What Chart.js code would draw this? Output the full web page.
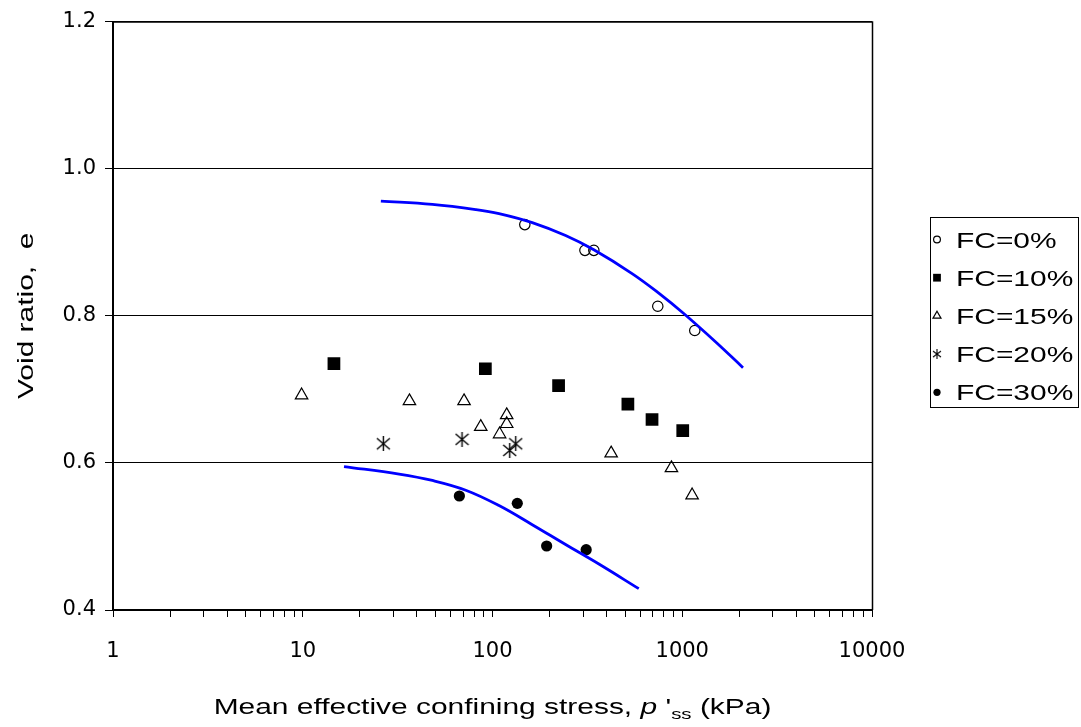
<!DOCTYPE html>
<html>
<head>
<meta charset="utf-8">
<script src="https://cdn.jsdelivr.net/npm/chart.js@4.4.0/dist/chart.umd.min.js"></script>
<style>
html, body { margin: 0; padding: 0; background: #fff; }
#wrap { width: 1081px; height: 727px; }
</style>
</head>
<body>
<div id="wrap"><canvas id="mainChart" width="1081" height="727"></canvas></div>
<script>
// p'ss (kPa) and void ratio e
const fc0X = [148, 307, 342, 743, 1164];
const fc0Y = [0.924, 0.889, 0.889, 0.813, 0.780];
const fc10X = [14.6, 91.7, 223, 517, 693, 1006];
const fc10Y = [0.735, 0.728, 0.705, 0.680, 0.659, 0.644];
const fc15X = [9.86, 36.5, 70.8, 86.7, 109, 118.8, 118.8, 422, 877, 1127];
const fc15Y = [0.692, 0.684, 0.684, 0.649, 0.639, 0.665, 0.653, 0.613, 0.593, 0.556];
const fc20X = [26.6, 69.1, 123.2, 132.5];
const fc20Y = [0.626, 0.632, 0.617, 0.626];
const fc30X = [66.9, 135.1, 192.9, 311.7];
const fc30Y = [0.555, 0.545, 0.487, 0.482];

// trend lines
const upperX = [25.8, 48.2, 81.6, 108.2, 162, 242.8, 342, 544, 752, 1018, 1496, 2090];
const upperY = [0.956, 0.9514, 0.9445, 0.939, 0.9267, 0.9091, 0.8897, 0.8574, 0.8308, 0.8031, 0.7647, 0.7295];
const lowerX = [16.5, 32.2, 48.2, 72.3, 108.2, 162, 242.8, 363.6, 590];
const lowerY = [0.595, 0.5848, 0.5761, 0.5629, 0.542, 0.516, 0.489, 0.4625, 0.429];

const xMajor = [1, 10, 100, 1000, 10000];
const yTicks = [0.4, 0.6, 0.8, 1.0, 1.2];
const legendLabels = ['FC=0%', 'FC=10%', 'FC=15%', 'FC=20%', 'FC=30%'];

const pts = (xs, ys) => xs.map((x, i) => ({ x: x, y: ys[i] }));

// log ticks: decades plus 2..9 in between
const xTickVals = [];
xMajor.forEach((m, i) => {
    xTickVals.push(m);
    if (i < xMajor.length - 1) {
        for (let k = 2; k <= 9; k++) xTickVals.push(m * k);
    }
});

// excel style asterisk marker (X with a vertical bar)
function makeStar(size, lw) {
    const c = document.createElement('canvas');
    c.width = size; c.height = size;
    const g = c.getContext('2d');
    g.strokeStyle = '#000';
    g.lineWidth = lw;
    g.beginPath();
    g.moveTo(1, 2); g.lineTo(size - 1, size - 2);
    g.moveTo(size - 1, 2); g.lineTo(1, size - 2);
    g.moveTo(size / 2, 0); g.lineTo(size / 2, size);
    g.stroke();
    return c;
}
const starBig = makeStar(15, 1.4);
const starSmall = makeStar(10, 1.1);

const FONT = '"Liberation Sans", Arial, sans-serif';
const STRETCH = 1.36;

function wideText(ctx, str, x, y) {
    ctx.save();
    ctx.translate(x, y);
    ctx.scale(STRETCH, 1);
    ctx.fillText(str, 0, 0);
    ctx.restore();
}

const framePlugin = {
    id: 'frame',
    beforeDatasetsDraw(chart) {
        const a = chart.chartArea, ctx = chart.ctx;
        ctx.save();
        ctx.strokeStyle = '#000';
        ctx.lineWidth = 1.5;
        ctx.beginPath();
        ctx.moveTo(a.left, a.top + 0.5);
        ctx.lineTo(a.right + 0.5, a.top + 0.5);
        ctx.lineTo(a.right + 0.5, a.bottom);
        ctx.stroke();
        ctx.restore();
    }
};

const textPlugin = {
    id: 'texts',
    afterDraw(chart) {
        const ctx = chart.ctx, a = chart.chartArea;
        ctx.save();
        ctx.fillStyle = '#000';
        ctx.textBaseline = 'alphabetic';
        ctx.textAlign = 'left';

        // y title
        ctx.save();
        ctx.font = '22px ' + FONT;
        ctx.translate(33, (a.top + a.bottom) / 2);
        ctx.rotate(-Math.PI / 2);
        ctx.scale(STRETCH, 1);
        ctx.textAlign = 'center';
        ctx.fillText('Void ratio,  e', 0, 0);
        ctx.restore();

        // x title with italic p and subscript
        const parts = [
            { t: 'Mean effective confining stress, ', f: '22px ' + FONT, dy: 0 },
            { t: 'p', f: 'italic 22px ' + FONT, dy: 0 },
            { t: ' \'', f: '22px ' + FONT, dy: 0 },
            { t: 'ss', f: '15px ' + FONT, dy: 5 },
            { t: ' (kPa)', f: '22px ' + FONT, dy: 0 }
        ];
        let total = 0;
        parts.forEach(p => { ctx.font = p.f; p.w = ctx.measureText(p.t).width * STRETCH; total += p.w; });
        let x = (a.left + a.right) / 2 - total / 2;
        const base = 714;
        parts.forEach(p => {
            ctx.font = p.f;
            wideText(ctx, p.t, x, base + p.dy);
            x += p.w;
        });

        // legend
        const bx = 930, by = 217, bw = 148, bh = 190;
        ctx.strokeStyle = '#000';
        ctx.lineWidth = 1;
        ctx.strokeRect(bx + 0.5, by + 0.5, bw, bh);
        const sets = chart.data.datasets.filter(d => d.legendRadius);
        sets.forEach((d, i) => {
            const cy = 239.5 + i * 38.2;
            const cx = 937;
            ctx.fillStyle = d.backgroundColor;
            ctx.strokeStyle = d.borderColor;
            ctx.lineWidth = d.borderWidth || 0;
            Chart.helpers.drawPoint(ctx, {
                pointStyle: d.legendImage || d.pointStyle,
                rotation: 0,
                radius: d.legendRadius,
                borderWidth: d.borderWidth || 0
            }, cx, cy);
            ctx.fillStyle = '#000';
            ctx.font = '22px ' + FONT;
            wideText(ctx, d.label, 956, cy + 8);
        });
        ctx.restore();
    }
};

const ctx = document.getElementById('mainChart').getContext('2d');
new Chart(ctx, {
    type: 'scatter',
    data: {
        datasets: [
            {
                label: 'trend upper', data: pts(upperX, upperY), showLine: true,
                borderColor: '#0000ff', borderWidth: 2.8, pointRadius: 0,
                tension: 0.4, order: 0
            },
            {
                label: 'trend lower', data: pts(lowerX, lowerY), showLine: true,
                borderColor: '#0000ff', borderWidth: 2.8, pointRadius: 0,
                tension: 0.4, order: 0
            },
            {
                label: legendLabels[0], data: pts(fc0X, fc0Y), pointStyle: 'circle',
                pointRadius: 5.2, borderWidth: 1.2, borderColor: '#000',
                backgroundColor: 'rgba(0,0,0,0)', legendRadius: 3.4, order: 1
            },
            {
                label: legendLabels[1], data: pts(fc10X, fc10Y), pointStyle: 'rect',
                pointRadius: 9, borderWidth: 0, borderColor: '#000',
                backgroundColor: '#000', legendRadius: 5.5, order: 1
            },
            {
                label: legendLabels[2], data: pts(fc15X, fc15Y), pointStyle: 'triangle',
                pointRadius: 7.2, borderWidth: 1.2, borderColor: '#000',
                backgroundColor: 'rgba(0,0,0,0)', legendRadius: 4.6, order: 1
            },
            {
                label: legendLabels[3], data: pts(fc20X, fc20Y), pointStyle: starBig,
                legendImage: starSmall, pointRadius: 7, borderWidth: 0, borderColor: '#000',
                backgroundColor: '#000', legendRadius: 4, order: 1
            },
            {
                label: legendLabels[4], data: pts(fc30X, fc30Y), pointStyle: 'circle',
                pointRadius: 5.6, borderWidth: 0, borderColor: '#000',
                backgroundColor: '#000', legendRadius: 3.6, order: 1
            }
        ]
    },
    options: {
        responsive: false,
        animation: false,
        devicePixelRatio: 1,
        events: [],
        layout: { padding: { left: 0, right: 209, top: 17, bottom: 0 } },
        plugins: {
            legend: { display: false },
            tooltip: { enabled: false }
        },
        scales: {
            x: {
                type: 'logarithmic',
                min: 1,
                max: 10000,
                afterBuildTicks: (s) => { s.ticks = xTickVals.map(v => ({ value: v })); },
                afterFit: (s) => { s.height = 117; },
                ticks: {
                    autoSkip: false, maxRotation: 0, minRotation: 0, padding: 22,
                    color: '#000', font: { family: 'DejaVu Sans', size: 21 },
                    callback: (v) => xMajor.includes(v) ? String(v) : ''
                },
                grid: { drawOnChartArea: false, drawTicks: true, tickLength: 7, color: '#000', lineWidth: 1 },
                border: { color: '#000', width: 2 }
            },
            y: {
                min: 0.4,
                max: 1.2,
                afterBuildTicks: (s) => { s.ticks = yTicks.map(v => ({ value: v })); },
                afterFit: (s) => { s.width = 113; },
                ticks: {
                    padding: 9, color: '#000', font: { family: 'DejaVu Sans', size: 21 },
                    callback: (v) => Number(v).toFixed(1)
                },
                grid: { color: '#000', lineWidth: 1, tickLength: 8 },
                border: { color: '#000', width: 2 }
            }
        }
    },
    plugins: [framePlugin, textPlugin]
});
</script>
</body>
</html>
